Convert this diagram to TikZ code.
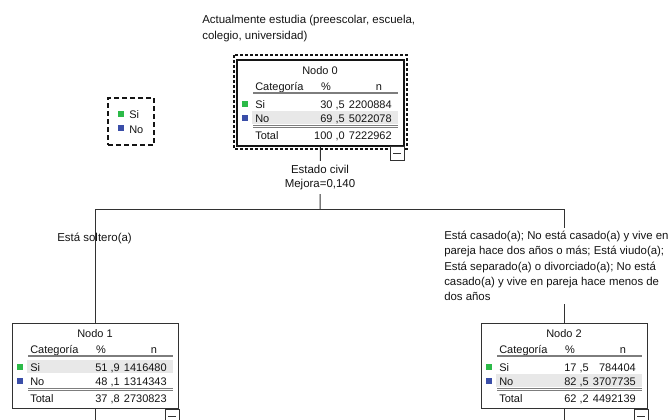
\documentclass[tikz,border=0pt]{standalone}
\usepackage{fontspec}
\setmainfont{Liberation Sans}
\definecolor{sigreen}{RGB}{44,186,72}
\definecolor{noblue}{RGB}{58,78,168}
\definecolor{hlgray}{RGB}{232,232,232}
\definecolor{ink}{RGB}{20,20,20}
\definecolor{rulegray}{RGB}{125,125,125}
\definecolor{edge}{RGB}{50,50,50}
\tikzset{
  txt/.style={inner sep=0pt, font=\fontsize{8.6}{11.4}\selectfont, text=ink},
  tabtxt/.style={inner sep=0pt, font=\fontsize{8.25}{10}\selectfont, text=ink},
  nodebox/.style={draw=edge, line width=0.75pt, inner sep=0pt, minimum width=124.5pt, minimum height=63.75pt, anchor=north west},
  conn/.style={draw=edge, line width=0.75pt},
  tablerule/.style={draw=rulegray, line width=0.9pt},
  selframe/.style={draw=ink, line width=1pt, dash pattern=on 2.25pt off 1.5pt},
  legendframe/.style={draw=ink, line width=1pt, dash pattern=on 3.75pt off 2.25pt, inner sep=0pt, minimum width=34.5pt, minimum height=35.25pt},
  collapsebox/.style={draw=edge, line width=0.75pt, fill=white},
}
\def\hltop{37}
\newcommand\spssnode[9]{%
  \begin{scope}[shift={(#2)}]
    \fill[hlgray] (15,\hltop) rectangle (161,{\hltop+13});
    \node[nodebox] (#1) at (0,0) {};
    \node[tabtxt,anchor=base] (#1-title) at (83,14) {#3};
    \node[tabtxt,anchor=base west] (#1-hcat) at (18,30) {Categoría};
    \node[tabtxt,anchor=base] (#1-hpct) at (89,30) {\%};
    \node[tabtxt,anchor=base] (#1-hn) at (142,30) {n};
    \draw[tablerule] (16,33) -- (161,33);
    \fill[sigreen] (5,41) rectangle (11,47);
    \node[tabtxt,anchor=base west] (#1-si) at (18,48) {Si};
    \node[tabtxt,anchor=base east] (#1-sipct) at (108,48) {#4};
    \node[tabtxt,anchor=base east] (#1-sin) at (155,48) {#5};
    \fill[noblue] (5,55) rectangle (11,61);
    \node[tabtxt,anchor=base west] (#1-no) at (18,62) {No};
    \node[tabtxt,anchor=base east] (#1-nopct) at (108,62) {#6};
    \node[tabtxt,anchor=base east] (#1-non) at (155,62) {#7};
    \draw[tablerule, line width=0.75pt] (16,65) -- (161,65) (16,67) -- (161,67);
    \node[tabtxt,anchor=base west] (#1-tot) at (18,79) {Total};
    \node[tabtxt,anchor=base east] (#1-totpct) at (108,79) {#8};
    \node[tabtxt,anchor=base east] (#1-totn) at (155,79) {#9};
  \end{scope}}
\newcommand\collapser[1]{%
  \draw[collapsebox] ([shift={(-14,0)}]#1.south east) rectangle ([shift={(0,14)}]#1.south east);
  \draw[conn] ([shift={(-11,7)}]#1.south east) -- ([shift={(-3,7)}]#1.south east);}
\begin{document}
\begin{tikzpicture}[x=0.75pt, y=-0.75pt]
\useasboundingbox (0,0) rectangle (670,419);
% title of the target variable
\node[txt,anchor=base west] (title1) at (202,23.5) {Actualmente estudia (preescolar, escuela,};
\node[txt,anchor=base west] (title2) at (202,39) {colegio, universidad)};
% legend
\node[legendframe] (legend) at (131,121.5) {};
\fill[sigreen] (118,111) rectangle (124,117);
\node[tabtxt,anchor=base west] (legsi) at (129,118) {Si};
\fill[noblue] (118,125) rectangle (124,131);
\node[tabtxt,anchor=base west] (legno) at (129,133) {No};
% nodes
\def\hltop{51}
\spssnode{n0}{237,60}{Nodo 0}{30 ,5}{2200884}{69 ,5}{5022078}{100 ,0}{7222962}
\def\hltop{37}
\spssnode{n1}{12,323}{Nodo 1}{51 ,9}{1416480}{48 ,1}{1314343}{37 ,8}{2730823}
\def\hltop{51}
\spssnode{n2}{481,323}{Nodo 2}{17 ,5}{784404}{82 ,5}{3707735}{62 ,2}{4492139}
% split label
\coordinate (bar) at (320,209);
\draw[conn] (n0.south) -- (bar);
\node[txt, align=center, fill=white, minimum height=24.75pt, font=\fontsize{8.6}{10.9}\selectfont] (split) at (320,177.5) {Estado civil\\Mejora=0,140};
% node 0 is the selected node
\draw[line width=1.8pt, draw=ink] (n0.north west) rectangle (n0.south east);
\draw[selframe] ([shift={(-3,-5)}]n0.north west) rectangle ([shift={(3,3)}]n0.south east);
\collapser{n0}
\collapser{n1}
\collapser{n2}
% branches
\draw[conn] (n1.north |- bar) -- (n2.north |- bar);
\draw[conn] (n1.north |- bar) -- (n1.north);
\node[txt,anchor=base west] (lblL) at (57,241) {Está soltero(a)};
\node[txt, align=left, anchor=north west, fill=white, inner ysep=2.25pt, font=\fontsize{8.55}{11.44}\selectfont] (lblR) at (444,228) {Está casado(a); No está casado(a) y vive en\\pareja hace dos años o más; Está viudo(a);\\Está separado(a) o divorciado(a); No está\\casado(a) y vive en pareja hace menos de\\dos años};
\draw[conn] (n2.north |- bar) -- (n2.north |- lblR.north);
\draw[conn] (n2.north |- lblR.south) -- (n2.north);
\draw[conn] (n1.south) -- ++(0,14);
\draw[conn] (n2.south) -- ++(0,14);
\end{tikzpicture}
\end{document}
